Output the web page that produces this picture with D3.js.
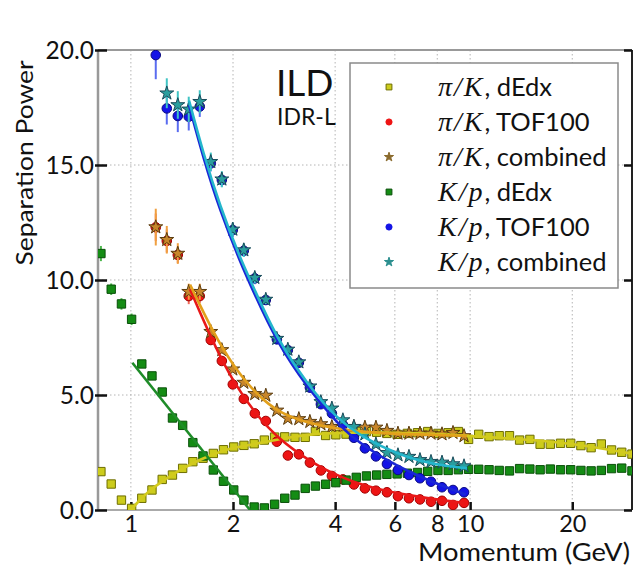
<!DOCTYPE html>
<html><head><meta charset="utf-8">
<script src="https://cdn.jsdelivr.net/npm/d3@7"></script>
<style>body{margin:0;background:#fff} svg{display:block}</style>
</head><body><svg id="c" width="636" height="567"></svg>
<script>
// ---- data ----
const dedxMomentum = [0.816,0.875,0.938,1.005,1.077,1.154,1.237,1.326,1.421,1.523,1.632,1.750,1.875,2.010,2.154,2.309,2.474,2.652,2.842,3.046,3.265,3.499,3.750,4.019,4.308,4.617,4.948,5.303,5.684,6.092,6.529,6.998,7.499,8.038,8.615,9.233,9.895,10.60,11.37,12.18,13.06,13.99,15.00,16.08,17.23,18.47,19.79,21.21,22.73,24.36,26.11,27.98,29.99];
const piK_dEdx = [1.67,1.13,0.43,0.07,0.51,0.87,1.33,1.52,1.81,2.10,2.25,2.46,2.62,2.74,2.81,2.88,3.04,3.17,3.18,3.16,3.16,3.42,3.24,3.27,3.30,3.41,3.41,3.38,3.33,3.29,3.33,3.36,3.41,3.33,3.36,3.41,3.07,3.29,3.19,3.23,3.23,3.04,3.07,2.86,2.86,2.90,2.90,2.80,2.71,2.87,2.61,2.51,2.43];
const Kp_dEdx = [11.15,9.6,8.96,8.29,6.35,5.83,5.13,4.0,3.68,2.93,2.35,1.74,1.25,0.87,0.43,0.13,0.09,0.25,0.51,0.65,0.94,1.04,1.12,1.19,1.30,1.42,1.48,1.52,1.55,1.57,1.60,1.63,1.68,1.72,1.72,1.75,1.77,1.77,1.75,1.72,1.70,1.80,1.78,1.75,1.78,1.75,1.75,1.72,1.70,1.72,1.80,1.82,1.70];
const Kp_dEdx_err = [0.33,0.25,0.25,0.25,0.15,0.12,0.1,0.1,0.1,0.08,0.08,0.08,0.06,0.06,0.05,0.05,0.05,0.05,0.05,0.05,0.05,0.05,0.05,0.05,0.05,0.05,0.05,0.05,0.05,0.05,0.05,0.05,0.05,0.05,0.05,0.05,0.05,0.05,0.05,0.05,0.05,0.05,0.05,0.05,0.05,0.05,0.05,0.05,0.05,0.05,0.05,0.05,0.05];

const tofMomentum = [1.184,1.276,1.375,1.481,1.596,1.720,1.854,1.997,2.152,2.319,2.499,2.693,2.902,3.127,3.370,3.631,3.913,4.217,4.544,4.896,5.276,5.686,6.127,6.602,7.115,7.667,8.262,8.903,9.594];
const piK_TOF = [12.29,11.7,11.09,9.30,9.30,7.39,6.48,5.46,4.83,4.2,3.87,2.97,2.37,2.42,2.06,1.72,1.48,1.33,1.11,0.94,0.84,0.77,0.60,0.51,0.46,0.36,0.40,0.22,0.31];
const piK_TOF_err = [0.6,0.5,0.35,0.35,0.3,0.2,0.15,0.12,0.1,0.1,0.1,0.08,0.08,0.08,0.06,0.06,0.06,0.05,0.05,0.05,0.05,0.05,0.05,0.05,0.05,0.05,0.05,0.05,0.05];
const piK_comb = [12.3,11.75,11.15,9.49,9.49,7.75,6.96,6.12,5.54,5.05,4.98,4.33,3.98,3.96,3.84,3.74,3.62,3.62,3.62,3.59,3.59,3.45,3.33,3.33,3.33,3.33,3.30,3.36,3.22];
const piK_comb_err = [0.8,0.6,0.45,0.35,0.35,0.2,0.15,0.12,0.1,0.1,0.1,0.08,0.08,0.08,0.06,0.06,0.06,0.05,0.05,0.05,0.05,0.05,0.05,0.05,0.05,0.05,0.05,0.05,0.05];
const Kp_TOF = [19.78,17.46,17.13,17.1,17.54,15.07,14.35,12.17,11.27,10.07,9.13,7.42,6.95,6.4,5.32,4.6,4.2,3.7,3.14,2.68,2.33,2.0,1.74,1.52,1.38,1.23,0.99,0.87,0.77];
const Kp_TOF_err = [1.05,0.7,0.7,0.6,0.45,0.35,0.3,0.3,0.25,0.25,0.2,0.15,0.15,0.15,0.12,0.1,0.1,0.08,0.08,0.08,0.06,0.06,0.06,0.05,0.05,0.05,0.05,0.05,0.05];
const Kp_comb = [null,18.12,17.61,17.42,17.75,15.14,14.38,12.2,11.3,10.1,9.15,7.45,6.98,6.43,5.38,4.7,4.42,3.91,3.62,3.30,2.86,2.49,2.39,2.32,2.18,2.10,2.07,2.0,1.91];
const Kp_comb_err = [0,0.65,0.6,0.55,0.5,0.4,0.35,0.3,0.3,0.25,0.2,0.15,0.15,0.15,0.12,0.1,0.1,0.08,0.08,0.08,0.06,0.06,0.06,0.05,0.05,0.05,0.05,0.05,0.05];

// fitted curves
const fit_piK_dEdx_p = [1.0,1.05,1.12,1.23,1.38,1.55,1.75,1.94,2.3,2.7,3.3,4.0,5.0,7.0,10,15,20,30];
const fit_piK_dEdx_v = [0,0.36,0.78,1.23,1.7,2.1,2.42,2.68,2.85,3.07,3.28,3.35,3.38,3.35,3.22,3.05,2.9,2.45];
const fit_Kp_dEdx_p = [1.01,2.245];
const fit_Kp_dEdx_v = [6.4,0.0];
const fit_piK_TOF_p = [1.494,1.75,2.005,2.35,2.754,3.301,3.61,3.955,4.529,5.25,6.6,8.26,9.63];
const fit_piK_TOF_v = [9.6,7.25,5.55,4.1,3.04,2.22,1.88,1.58,1.22,0.93,0.63,0.43,0.3];
const fit_piK_comb_p = [1.494,1.75,2.005,2.35,2.754,3.301,3.955,4.962,6.1,7.8,9.786];
const fit_piK_comb_v = [9.8,7.7,6.25,5.0,4.2,3.8,3.55,3.38,3.3,3.28,3.22];
const fit_Kp_TOF_p = [1.484,1.635,1.832,2.098,2.296,2.692,3.301,4.047,4.544,5.276,6.127,7.115,8.262,9.7];
const fit_Kp_TOF_v = [17.6,15.3,13.0,10.8,9.5,7.3,5.35,3.8,3.1,2.45,1.9,1.45,1.05,0.68];
const fit_Kp_comb_p = [1.484,1.635,1.832,2.098,2.296,2.692,3.301,4.047,4.962,6.083,7.126,8.544,9.786];
const fit_Kp_comb_v = [17.8,15.5,13.2,10.95,9.7,7.45,5.5,3.95,3.05,2.46,2.12,1.9,1.82];

const yTicks = [0,5,10,15,20];
const xTicks = [1,2,4,6,8,10,20];
const legendLabels = [
  ["π/K", ", dEdx"],["π/K", ", TOF100"],["π/K", ", combined"],
  ["K/p", ", dEdx"],["K/p", ", TOF100"],["K/p", ", combined"]];

// ---- drawing ----
const svg = d3.select("#c");
const x = d3.scaleLog().domain([0.8, 30]).range([98, 632]);
const y = d3.scaleLinear().domain([0, 20]).range([510, 50]);
const FONT = "Lato, 'Open Sans', sans-serif";

svg.append("defs").append("clipPath").attr("id","clip")
  .append("rect").attr("x",98).attr("y",50).attr("width",534).attr("height",460);

// grid
const grid = svg.append("g").attr("stroke","#b4b4b4").attr("stroke-width",1).attr("stroke-dasharray","1.5,2.5");
yTicks.filter(v=>v>0&&v<20).forEach(v=>grid.append("line").attr("x1",98).attr("x2",632).attr("y1",y(v)).attr("y2",y(v)));
xTicks.forEach(v=>grid.append("line").attr("x1",x(v)).attr("x2",x(v)).attr("y1",50).attr("y2",510));

// frame
svg.append("line").attr("x1",98).attr("x2",632).attr("y1",50).attr("y2",50).attr("stroke","#999").attr("stroke-width",2);
svg.append("line").attr("x1",98).attr("x2",632).attr("y1",510).attr("y2",510).attr("stroke","#aaa").attr("stroke-width",2);
svg.append("line").attr("x1",98).attr("x2",98).attr("y1",50).attr("y2",510).attr("stroke","#999").attr("stroke-width",2.5);
svg.append("line").attr("x1",632).attr("x2",632).attr("y1",50).attr("y2",510).attr("stroke","#222").attr("stroke-width",2);

// axes (ticks inward)
const yAxisL = d3.axisLeft(y).tickValues(yTicks).tickFormat(d3.format(".1f")).tickSize(-9).tickPadding(5);
const gy = svg.append("g").attr("transform","translate(98,0)").call(yAxisL);
gy.select(".domain").remove();
gy.selectAll(".tick line").attr("stroke","#111").attr("stroke-width",2.5).attr("x1",-3);
gy.selectAll(".tick text").attr("font-family",FONT).attr("font-size",24.5).attr("fill","#111").attr("x",-4).attr("dy","0.36em");
const yAxisR = d3.axisRight(y).tickValues(yTicks).tickFormat("").tickSize(-8);
const gyr = svg.append("g").attr("transform","translate(632,0)").call(yAxisR);
gyr.select(".domain").remove();
gyr.selectAll(".tick line").attr("stroke","#111").attr("stroke-width",2.5);
const xAxis = d3.axisBottom(x).tickValues(xTicks).tickFormat(d3.format("d")).tickSize(-8).tickPadding(5);
const gx = svg.append("g").attr("transform","translate(0,510)").call(xAxis);
gx.select(".domain").remove();
gx.selectAll(".tick line").attr("stroke","#111").attr("stroke-width",2.5);
gx.selectAll(".tick text").attr("font-family",FONT).attr("font-size",23.5).attr("fill","#111").attr("y",21.5).attr("dy",0);

// axis titles
svg.append("text").attr("x",630).attr("y",561).attr("text-anchor","end")
  .attr("font-family",FONT).attr("font-size",25).attr("fill","#111")
  .attr("textLength",212).attr("lengthAdjust","spacingAndGlyphs").text("Momentum (GeV)");
svg.append("text").attr("transform","translate(33,163) rotate(-90)").attr("text-anchor","middle")
  .attr("font-family",FONT).attr("font-size",24).attr("fill","#111")
  .attr("textLength",205).attr("lengthAdjust","spacingAndGlyphs").text("Separation Power");

// ILD label
svg.append("text").attr("x",276).attr("y",96).attr("font-family",FONT).attr("font-size",37).attr("fill","#111").text("ILD");
svg.append("text").attr("x",277).attr("y",125).attr("font-family",FONT).attr("font-size",23).attr("fill","#111").text("IDR-L");

// series
const plot = svg.append("g").attr("clip-path","url(#clip)");
const series = [
  {p:dedxMomentum, v:piK_dEdx, e:null, sym:d3.symbolSquare, size:70, fill:"#cccc1c", stroke:"#6e6e00", ec:"#cccc1c"},
  {p:tofMomentum, v:piK_TOF, e:piK_TOF_err, sym:d3.symbolCircle, size:72, fill:"#ee1414", stroke:"#a00000", ec:"#f06a5a"},
  {p:tofMomentum, v:piK_comb, e:piK_comb_err, sym:d3.symbolStar, size:60, fill:"#c8862a", stroke:"#5a3c10", ec:"#f0a040"},
  {p:dedxMomentum, v:Kp_dEdx, e:Kp_dEdx_err, sym:d3.symbolSquare, size:70, fill:"#148c14", stroke:"#0a500a", ec:"#4cb84c"},
  {p:tofMomentum, v:Kp_TOF, e:Kp_TOF_err, sym:d3.symbolCircle, size:72, fill:"#1414e6", stroke:"#0a0a80", ec:"#5a6cf0"},
  {p:tofMomentum, v:Kp_comb, e:Kp_comb_err, sym:d3.symbolStar, size:60, fill:"#2a9e9e", stroke:"#1a4a5a", ec:"#40c4c4"}
];
series.forEach(s=>{
  const pts = s.p.map((p,i)=>({p, v:s.v[i], e: s.e ? s.e[i] : 0})).filter(d=>d.v!==null);
  const g = plot.append("g");
  g.selectAll("line.eb").data(pts.filter(d=>d.e>0)).join("line")
    .attr("x1",d=>x(d.p)).attr("x2",d=>x(d.p)).attr("y1",d=>y(d.v-d.e)).attr("y2",d=>y(d.v+d.e))
    .attr("stroke",s.ec).attr("stroke-width",2);
  g.selectAll("path").data(pts).join("path")
    .attr("d",d3.symbol().type(s.sym).size(s.size))
    .attr("transform",d=>`translate(${x(d.p)},${y(d.v)})`)
    .attr("fill",s.fill).attr("stroke",s.stroke).attr("stroke-width",1);
});

const fits = [
  {p:fit_piK_dEdx_p, v:fit_piK_dEdx_v, c:"#d2ca1e"},
  {p:fit_Kp_dEdx_p, v:fit_Kp_dEdx_v, c:"#1e8c28"},
  {p:fit_piK_TOF_p, v:fit_piK_TOF_v, c:"#e81818"},
  {p:fit_piK_comb_p, v:fit_piK_comb_v, c:"#e2a01c"},
  {p:fit_Kp_TOF_p, v:fit_Kp_TOF_v, c:"#1a26d6"},
  {p:fit_Kp_comb_p, v:fit_Kp_comb_v, c:"#24b6cc"}
];
const line = d3.line().x(d=>x(d[0])).y(d=>y(d[1])).curve(d3.curveBasis);
fits.forEach(f=>{
  plot.append("path").attr("d",line(f.p.map((p,i)=>[p,f.v[i]])))
    .attr("fill","none").attr("stroke",f.c).attr("stroke-width",2.6);
});

// legend
const lg = svg.append("g");
lg.append("rect").attr("x",350).attr("y",63).attr("width",268).attr("height",225)
  .attr("fill","#fff").attr("stroke","#8a8a8a").attr("stroke-width",1.5);
const legSym = [
  {sym:d3.symbolSquare,size:34,fill:"#cccc1c",stroke:"#6e6e00"},
  {sym:d3.symbolCircle,size:30,fill:"#ee1414",stroke:"#ee1414"},
  {sym:d3.symbolStar,size:26,fill:"#8a6a2c",stroke:"#8a6a2c"},
  {sym:d3.symbolSquare,size:34,fill:"#148c14",stroke:"#0a500a"},
  {sym:d3.symbolCircle,size:30,fill:"#1414e6",stroke:"#1414e6"},
  {sym:d3.symbolStar,size:26,fill:"#2a8e8e",stroke:"#2a8e8e"}
];
legendLabels.forEach((lab,k)=>{
  const cy = 87 + 35*k;
  lg.append("path").attr("d",d3.symbol().type(legSym[k].sym).size(legSym[k].size)())
    .attr("transform",`translate(389,${cy})`).attr("fill",legSym[k].fill).attr("stroke",legSym[k].stroke).attr("stroke-width",1);
  const t = lg.append("text").attr("x",438).attr("y",cy+9).attr("fill","#111").attr("font-size",25.5);
  t.append("tspan").attr("font-family","'Liberation Serif', 'DejaVu Serif', serif").attr("font-style","italic")
    .attr("font-size",28).attr("letter-spacing",2).text(lab[0]);
  t.append("tspan").attr("font-family",FONT).attr("letter-spacing",0).text(lab[1]);
});
</script>
</body></html>
